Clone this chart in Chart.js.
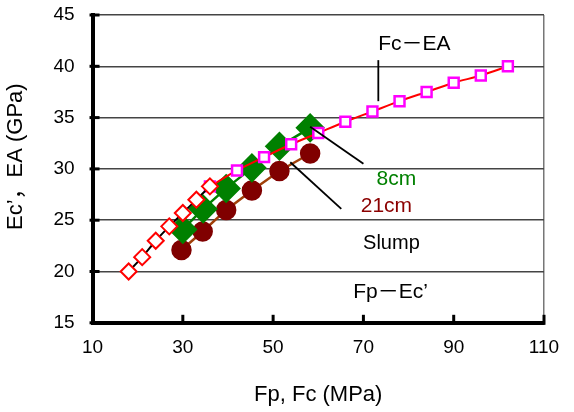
<!DOCTYPE html>
<html>
<head>
<meta charset="utf-8">
<script src="https://cdn.jsdelivr.net/npm/chart.js@4/dist/chart.umd.min.js"></script>
<style>
  html, body { margin: 0; padding: 0; background: #fff; }
  #wrap { width: 574px; height: 412px; }
</style>
</head>
<body>
<div id="wrap"><canvas id="c"></canvas></div>
<script>
// Fp - Ec' (red hollow diamonds, black curve)
const fpX = [18, 21, 24, 27, 30, 33, 36];
const fpY = [20.0, 21.4, 23.0, 24.4, 25.7, 27.0, 28.3];
// Fc - EA (magenta squares, red curve)
const fcX = [36, 42, 48, 54, 60, 66, 72, 78, 84, 90, 96, 102];
const fcY = [28.3, 29.85, 31.15, 32.4, 33.5, 34.6, 35.6, 36.6, 37.5, 38.4, 39.1, 40.0];
// Slump 8cm (green diamonds)
const s8X = [30, 34.5, 39.6, 45.3, 51.4, 58.2];
const s8Y = [24.1, 26.1, 28.1, 30.1, 32.2, 34.0];
// Slump 21cm (dark red circles)
const s21X = [29.7, 34.4, 39.6, 45.3, 51.4, 58.2];
const s21Y = [22.1, 23.9, 26.0, 27.9, 29.8, 31.5];

const xTicks = [10, 30, 50, 70, 90, 110];
const yTicks = [15, 20, 25, 30, 35, 40, 45];

// annotation texts (data coordinates)
const labels = [
  { text: 'Fc－EA', x: 81.3, y: 42.2, color: '#000', size: 21 },
  { text: '8cm', x: 77.3, y: 29.0, color: '#008000', size: 21 },
  { text: '21cm', x: 75.1, y: 26.4, color: '#8b0000', size: 21 },
  { text: 'Slump', x: 76.2, y: 22.7, color: '#000', size: 20 },
  { text: 'Fp－Ec’', x: 76.0, y: 18.0, color: '#000', size: 21 }
];
// leader lines [x1, y1, x2, y2]
const leaders = [
  [73.3, 40.6, 73.3, 36.6],
  [58.2, 34.1, 70.0, 30.5],
  [53.8, 30.65, 65.1, 26.1]
];

const pts = (xs, ys) => xs.map((v, i) => ({ x: v, y: ys[i] }));

const overlay = {
  id: 'overlay',
  afterDraw(chart) {
    const { ctx, scales: { x, y } } = chart;
    ctx.save();
    ctx.strokeStyle = '#000';
    ctx.lineWidth = 3;
    xTicks.forEach(v => {
      const px = x.getPixelForValue(v);
      ctx.beginPath(); ctx.moveTo(px, y.bottom + 2); ctx.lineTo(px, y.bottom - 8); ctx.stroke();
    });
    yTicks.forEach(v => {
      const py = y.getPixelForValue(v);
      ctx.beginPath(); ctx.moveTo(x.left - 3, py); ctx.lineTo(x.left + 7, py); ctx.stroke();
    });
    ctx.lineWidth = 1.8;
    leaders.forEach(l => {
      ctx.beginPath();
      ctx.moveTo(x.getPixelForValue(l[0]), y.getPixelForValue(l[1]));
      ctx.lineTo(x.getPixelForValue(l[2]), y.getPixelForValue(l[3]));
      ctx.stroke();
    });
    ctx.textAlign = 'center';
    ctx.textBaseline = 'middle';
    labels.forEach(t => {
      ctx.fillStyle = t.color;
      ctx.font = t.size + 'px "Liberation Sans", "Noto Sans CJK JP", sans-serif';
      ctx.fillText(t.text, x.getPixelForValue(t.x), y.getPixelForValue(t.y));
    });
    ctx.restore();
  }
};

const font = { family: '"Liberation Sans", "Noto Sans CJK JP", sans-serif', size: 19 };

new Chart(document.getElementById('c'), {
  type: 'scatter',
  data: {
    datasets: [
      {
        label: "Fp-Ec'",
        data: pts(fpX, fpY),
        showLine: true,
        borderColor: '#000',
        borderWidth: 2,
        tension: 0.3,
        pointStyle: 'rectRot',
        pointRadius: 8,
        pointBorderColor: '#ff0000',
        pointBackgroundColor: '#fff',
        pointBorderWidth: 2,
        order: 1
      },
      {
        label: 'Fc-EA',
        data: pts(fcX, fcY),
        showLine: true,
        borderColor: '#ff0000',
        borderWidth: 2,
        tension: 0.3,
        pointStyle: 'rect',
        pointRadius: 7,
        pointBorderColor: '#ff00ff',
        pointBackgroundColor: '#fff',
        pointBorderWidth: 2.5,
        order: 2
      },
      {
        label: '8cm',
        data: pts(s8X, s8Y),
        showLine: true,
        borderColor: '#008000',
        borderWidth: 2.5,
        pointStyle: 'rectRot',
        pointRadius: 13,
        pointBorderColor: '#008000',
        pointBackgroundColor: '#008000',
        order: 3
      },
      {
        label: '21cm',
        data: pts(s21X, s21Y),
        showLine: true,
        borderColor: '#a0400a',
        borderWidth: 2.5,
        pointStyle: 'circle',
        pointRadius: 9,
        pointBorderColor: '#800000',
        pointBackgroundColor: '#800000',
        order: 4
      }
    ]
  },
  options: {
    responsive: true,
    maintainAspectRatio: false,
    animation: false,
    layout: { autoPadding: false, padding: { left: 3, right: 30, top: 0, bottom: 4 } },
    plugins: { legend: { display: false }, tooltip: { enabled: false } },
    scales: {
      x: {
        type: 'linear',
        min: 10, max: 110,
        afterBuildTicks: s => { s.ticks = xTicks.map(v => ({ value: v })); },
        grid: {
          drawTicks: false,
          color: c => (c.tick && c.tick.value === 110 ? '#777' : 'transparent'),
          lineWidth: 1.5
        },
        border: { display: true, color: '#000', width: 4 },
        ticks: { color: '#000', font: font, padding: 14, maxRotation: 0 },
        title: { display: true, text: 'Fp, Fc (MPa)', color: '#000', font: { family: font.family, size: 22 }, padding: { top: 8, bottom: 0 } }
      },
      y: {
        type: 'linear',
        min: 15, max: 45,
        afterBuildTicks: s => { s.ticks = yTicks.map(v => ({ value: v })); },
        afterFit: s => { s.paddingTop = 15; s.paddingBottom = 0; },
        grid: { drawTicks: false, color: '#444', lineWidth: 1.5 },
        border: { display: true, color: '#000', width: 4 },
        ticks: { color: '#000', font: font, padding: 18 },
        title: { display: true, text: '    Ec’，EA (GPa)', color: '#000', font: { family: font.family, size: 22 }, padding: { top: 0, bottom: 6 } }
      }
    }
  },
  plugins: [overlay]
});
</script>
</body>
</html>
